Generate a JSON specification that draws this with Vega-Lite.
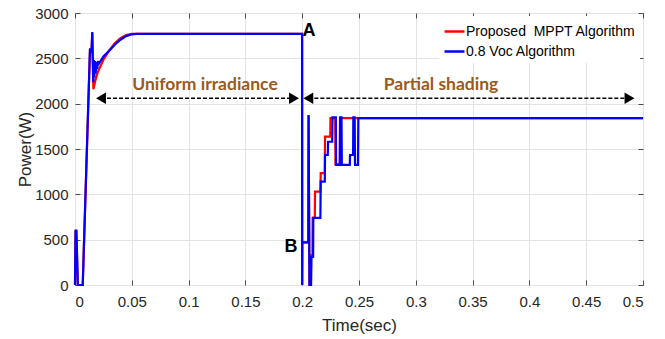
{
  "$schema": "https://vega.github.io/schema/vega-lite/v6.json",
  "width": 568,
  "height": 272,
  "autosize": {"type": "none"},
  "padding": {"left": 75, "top": 13, "right": 22, "bottom": 54},
  "background": "white",
  "config": {
    "font": "Liberation Sans",
    "view": {"stroke": "#4d4d4d", "strokeWidth": 1},
    "axis": {
      "labelFont": "Liberation Sans",
      "labelFontSize": 15,
      "labelColor": "#262626",
      "titleFont": "Liberation Sans",
      "titleFontSize": 17,
      "titleFontWeight": "normal",
      "titleColor": "#262626",
      "gridColor": "#e3e3e3",
      "gridWidth": 1,
      "tickColor": "#4d4d4d",
      "domain": false
    }
  },
  "datasets": {
    "series": [
      {"t": 0, "P": 0, "s": "p"},
      {"t": 0.0005, "P": 590, "s": "p"},
      {"t": 0.0012, "P": 590, "s": "p"},
      {"t": 0.0025, "P": 0, "s": "p"},
      {"t": 0.0068, "P": 0, "s": "p"},
      {"t": 0.0132, "P": 2600, "s": "p"},
      {"t": 0.0145, "P": 2560, "s": "p"},
      {"t": 0.0152, "P": 2780, "s": "p"},
      {"t": 0.0162, "P": 2160, "s": "p"},
      {"t": 0.018, "P": 2260, "s": "p"},
      {"t": 0.02, "P": 2345, "s": "p"},
      {"t": 0.025, "P": 2485, "s": "p"},
      {"t": 0.03, "P": 2585, "s": "p"},
      {"t": 0.035, "P": 2665, "s": "p"},
      {"t": 0.04, "P": 2722, "s": "p"},
      {"t": 0.045, "P": 2757, "s": "p"},
      {"t": 0.05, "P": 2770, "s": "p"},
      {"t": 0.054, "P": 2770, "s": "p"},
      {"t": 0.1999, "P": 2770, "s": "p"},
      {"t": 0.2, "P": 0, "s": "p"},
      {"t": 0.2001, "P": 470, "s": "p"},
      {"t": 0.2054, "P": 470, "s": "p"},
      {"t": 0.2056, "P": 1870, "s": "p"},
      {"t": 0.2064, "P": 0, "s": "p"},
      {"t": 0.207, "P": 0, "s": "p"},
      {"t": 0.2074, "P": 330, "s": "p"},
      {"t": 0.209, "P": 330, "s": "p"},
      {"t": 0.2092, "P": 740, "s": "p"},
      {"t": 0.2111, "P": 740, "s": "p"},
      {"t": 0.2113, "P": 1030, "s": "p"},
      {"t": 0.2161, "P": 1030, "s": "p"},
      {"t": 0.2163, "P": 1235, "s": "p"},
      {"t": 0.2199, "P": 1235, "s": "p"},
      {"t": 0.2201, "P": 1636, "s": "p"},
      {"t": 0.2247, "P": 1636, "s": "p"},
      {"t": 0.2249, "P": 1840, "s": "p"},
      {"t": 0.2291, "P": 1840, "s": "p"},
      {"t": 0.2293, "P": 1330, "s": "p"},
      {"t": 0.2331, "P": 1330, "s": "p"},
      {"t": 0.2333, "P": 1840, "s": "p"},
      {"t": 0.5, "P": 1840, "s": "p"},
      {"t": 0, "P": 0, "s": "v"},
      {"t": 0.0005, "P": 600, "s": "v"},
      {"t": 0.0012, "P": 600, "s": "v"},
      {"t": 0.0025, "P": 0, "s": "v"},
      {"t": 0.0068, "P": 0, "s": "v"},
      {"t": 0.0132, "P": 2610, "s": "v"},
      {"t": 0.0145, "P": 2570, "s": "v"},
      {"t": 0.0152, "P": 2790, "s": "v"},
      {"t": 0.016, "P": 2240, "s": "v"},
      {"t": 0.0165, "P": 2480, "s": "v"},
      {"t": 0.017, "P": 2290, "s": "v"},
      {"t": 0.0176, "P": 2470, "s": "v"},
      {"t": 0.0182, "P": 2330, "s": "v"},
      {"t": 0.0188, "P": 2460, "s": "v"},
      {"t": 0.0195, "P": 2380, "s": "v"},
      {"t": 0.0202, "P": 2470, "s": "v"},
      {"t": 0.021, "P": 2440, "s": "v"},
      {"t": 0.025, "P": 2520, "s": "v"},
      {"t": 0.031, "P": 2595, "s": "v"},
      {"t": 0.035, "P": 2650, "s": "v"},
      {"t": 0.04, "P": 2705, "s": "v"},
      {"t": 0.045, "P": 2745, "s": "v"},
      {"t": 0.05, "P": 2765, "s": "v"},
      {"t": 0.054, "P": 2770, "s": "v"},
      {"t": 0.1999, "P": 2770, "s": "v"},
      {"t": 0.2, "P": 0, "s": "v"},
      {"t": 0.2001, "P": 470, "s": "v"},
      {"t": 0.2054, "P": 470, "s": "v"},
      {"t": 0.2056, "P": 1875, "s": "v"},
      {"t": 0.2064, "P": 0, "s": "v"},
      {"t": 0.2078, "P": 0, "s": "v"},
      {"t": 0.2082, "P": 310, "s": "v"},
      {"t": 0.2096, "P": 310, "s": "v"},
      {"t": 0.2098, "P": 740, "s": "v"},
      {"t": 0.216, "P": 740, "s": "v"},
      {"t": 0.2163, "P": 1140, "s": "v"},
      {"t": 0.2199, "P": 1140, "s": "v"},
      {"t": 0.2201, "P": 1434, "s": "v"},
      {"t": 0.2225, "P": 1434, "s": "v"},
      {"t": 0.2228, "P": 1580, "s": "v"},
      {"t": 0.2264, "P": 1580, "s": "v"},
      {"t": 0.2267, "P": 1850, "s": "v"},
      {"t": 0.2296, "P": 1850, "s": "v"},
      {"t": 0.2298, "P": 1324, "s": "v"},
      {"t": 0.2331, "P": 1324, "s": "v"},
      {"t": 0.2334, "P": 1850, "s": "v"},
      {"t": 0.2346, "P": 1850, "s": "v"},
      {"t": 0.2349, "P": 1324, "s": "v"},
      {"t": 0.2419, "P": 1324, "s": "v"},
      {"t": 0.2421, "P": 1434, "s": "v"},
      {"t": 0.2448, "P": 1434, "s": "v"},
      {"t": 0.245, "P": 1850, "s": "v"},
      {"t": 0.2462, "P": 1850, "s": "v"},
      {"t": 0.2465, "P": 1324, "s": "v"},
      {"t": 0.2491, "P": 1324, "s": "v"},
      {"t": 0.2494, "P": 1840, "s": "v"},
      {"t": 0.5, "P": 1840, "s": "v"}
    ],
    "regionText": [
      {"t": 0.1144, "P": 2206, "txt": "Uniform irradiance"},
      {"t": 0.3222, "P": 2206, "txt": "Partial shading"}
    ],
    "pointText": [
      {"t": 0.206, "P": 2802, "txt": "A"},
      {"t": 0.1901, "P": 414, "txt": "B"}
    ],
    "arrows": [
      {"t": 0.0229, "t2": 0.1928, "P": 2060},
      {"t": 0.2054, "t2": 0.4881, "P": 2060}
    ],
    "heads": [
      {"t": 0.0229, "P": 2060, "dir": "left"},
      {"t": 0.1928, "P": 2060, "dir": "right"},
      {"t": 0.2054, "P": 2060, "dir": "left"},
      {"t": 0.4881, "P": 2060, "dir": "right"}
    ]
  },
  "layer": [
    {
      "data": {"name": "series"},
      "transform": [{"filter": "datum.s === 'p'"}],
      "mark": {"type": "line", "strokeWidth": 2.2, "interpolate": "linear"},
      "encoding": {
        "x": {
          "field": "t", "type": "quantitative",
          "scale": {"domain": [0, 0.5], "nice": false},
          "axis": {
            "title": "Time(sec)",
            "values": [0, 0.05, 0.1, 0.15, 0.2, 0.25, 0.3, 0.35, 0.4, 0.45, 0.5],
            "format": "~g",
            "grid": true,
            "tickSize": -5,
            "labelPadding": 14,
            "titlePadding": 8
          }
        },
        "y": {
          "field": "P", "type": "quantitative",
          "scale": {"domain": [0, 3000], "nice": false},
          "axis": {
            "title": "Power(W)",
            "values": [0, 500, 1000, 1500, 2000, 2500, 3000],
            "format": "d",
            "grid": true,
            "tickSize": -5,
            "labelPadding": 12,
            "titlePadding": 0
          }
        },
        "color": {
          "field": "s", "type": "nominal",
          "scale": {"domain": ["p", "v"], "range": ["#ff0000", "#0000ff"]},
          "legend": {
            "title": null,
            "orient": "none",
            "legendX": 364,
            "legendY": 3,
            "padding": 4,
            "fillColor": "white",
            "strokeColor": null,
            "symbolType": "stroke",
            "symbolSize": 400,
            "symbolStrokeWidth": 2.5,
            "labelOffset": 0,
            "labelLimit": 0,
            "labelFont": "Liberation Sans",
            "labelFontSize": 14,
            "labelColor": "#000000",
            "rowPadding": 1,
            "labelExpr": "datum.label === 'p' ? 'Proposed\u00a0 MPPT Algorithm' : '0.8 Voc Algorithm'"
          }
        }
      }
    },
    {
      "data": {"name": "series"},
      "transform": [{"filter": "datum.s === 'v'"}],
      "mark": {"type": "line", "strokeWidth": 2.2, "interpolate": "linear"},
      "encoding": {
        "x": {"field": "t", "type": "quantitative", "axis": null},
        "y": {"field": "P", "type": "quantitative", "axis": null},
        "color": {"field": "s", "type": "nominal"}
      }
    },
    {
      "data": {"name": "arrows"},
      "mark": {"type": "rule", "color": "#000000", "strokeWidth": 1.5, "strokeDash": [4, 2]},
      "encoding": {
        "x": {"field": "t", "type": "quantitative", "axis": null},
        "x2": {"field": "t2"},
        "y": {"field": "P", "type": "quantitative", "axis": null}
      }
    },
    {
      "data": {"name": "heads"},
      "mark": {"type": "point", "filled": true, "color": "#000000", "opacity": 1, "size": 130},
      "encoding": {
        "x": {"field": "t", "type": "quantitative", "axis": null},
        "y": {"field": "P", "type": "quantitative", "axis": null},
        "shape": {
          "field": "dir", "type": "nominal",
          "scale": {"domain": ["left", "right"], "range": ["triangle-left", "triangle-right"]},
          "legend": null
        }
      }
    },
    {
      "data": {"name": "regionText"},
      "mark": {"type": "text", "font": "Lato", "fontWeight": "bold", "fontSize": 17.5, "color": "#9a5a1e", "align": "center", "baseline": "middle"},
      "encoding": {
        "x": {"field": "t", "type": "quantitative", "axis": null},
        "y": {"field": "P", "type": "quantitative", "axis": null},
        "text": {"field": "txt"}
      }
    },
    {
      "data": {"name": "pointText"},
      "mark": {"type": "text", "font": "Liberation Sans", "fontWeight": "bold", "fontSize": 18, "color": "#000000", "align": "center", "baseline": "middle"},
      "encoding": {
        "x": {"field": "t", "type": "quantitative", "axis": null},
        "y": {"field": "P", "type": "quantitative", "axis": null},
        "text": {"field": "txt"}
      }
    },
    {
      "data": {"name": "heads"},
      "mark": {"type": "point", "opacity": 0},
      "encoding": {
        "x": {
          "field": "t", "type": "quantitative",
          "axis": {"orient": "top", "title": null, "labels": false, "grid": false, "tickSize": -5,
                   "values": [0, 0.05, 0.1, 0.15, 0.2, 0.25, 0.3, 0.35, 0.4, 0.45, 0.5]}
        },
        "y": {
          "field": "P", "type": "quantitative",
          "axis": {"orient": "right", "title": null, "labels": false, "grid": false, "tickSize": -5,
                   "values": [0, 500, 1000, 1500, 2000, 2500, 3000]}
        }
      }
    }
  ],
  "resolve": {"axis": {"x": "independent", "y": "independent"}}
}
